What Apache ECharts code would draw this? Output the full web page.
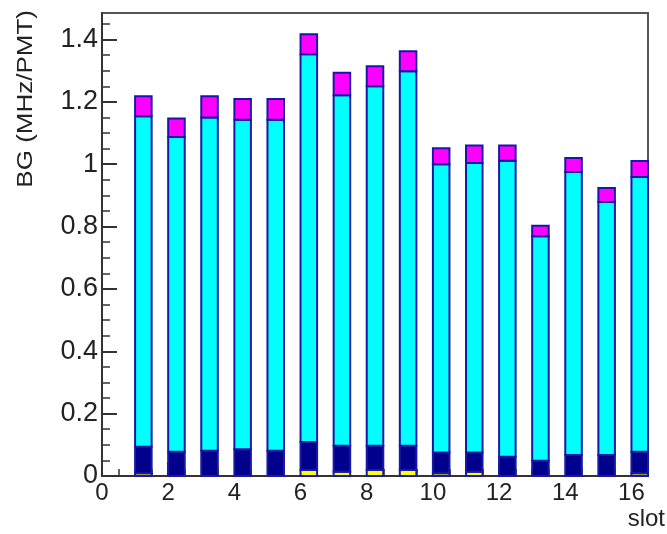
<!DOCTYPE html>
<html lang="en">
<head>
    <meta charset="UTF-8">
    <title>BG per slot</title>
    <script type="text/javascript" src="https://cdn.jsdelivr.net/npm/echarts@6/dist/echarts.min.js"></script>
    <style>
        html, body { margin: 0; padding: 0; background: #fff; }
    </style>
</head>
<body>
<div id="main" style="width:667px;height:534px;"></div>
</body>

<script>
    // slot numbers and the four stacked contributions (MHz/PMT), bottom to top
    let slots = [1, 2, 3, 4, 5, 6, 7, 8, 9, 10, 11, 12, 13, 14, 15, 16];
    let yellowBG = [0.009, 0, 0, 0, 0, 0.019, 0.014, 0.019, 0.019, 0.009, 0.014, 0, 0, 0, 0, 0.009];
    let navyBG = [0.085, 0.078, 0.081, 0.086, 0.081, 0.090, 0.083, 0.078, 0.078, 0.066, 0.061, 0.062, 0.049, 0.067, 0.067, 0.069];
    let cyanBG = [1.060, 1.009, 1.069, 1.057, 1.062, 1.244, 1.124, 1.153, 1.201, 0.925, 0.929, 0.949, 0.720, 0.908, 0.812, 0.881];
    let magentaBG = [0.064, 0.060, 0.068, 0.066, 0.066, 0.064, 0.072, 0.064, 0.064, 0.051, 0.056, 0.049, 0.034, 0.045, 0.045, 0.051];

    let xMajor = [0, 2, 4, 6, 8, 10, 12, 14, 16];
    let yMajor = [0, 0.2, 0.4, 0.6, 0.8, 1, 1.2, 1.4];

    const font = '"Liberation Sans", Arial, sans-serif';
    const axisColor = '#333';
    const barWidth = 0.5;

    let xMinor = [];
    for (let v = 0; v <= 16.5; v += 0.5) xMinor.push(v);
    let yMinor = [];
    for (let k = 0; k <= 29; k++) yMinor.push(Math.round(k * 5) / 100);

    function stackSeries(name, color, parts, idx) {
        let data = slots.map((s, i) => {
            let base = 0;
            for (let j = 0; j < idx; j++) base += parts[j][i];
            return [s, base, base + parts[idx][i]];
        });
        return {
            name: name,
            type: 'custom',
            data: data,
            z: 3,
            renderItem: function (params, api) {
                let lo = api.value(1), hi = api.value(2);
                if (hi - lo <= 0) return null;
                let p0 = api.coord([api.value(0), lo]);
                let p1 = api.coord([api.value(0) + barWidth, hi]);
                return {
                    type: 'rect',
                    shape: { x: p0[0], y: p1[1], width: p1[0] - p0[0], height: p0[1] - p1[1] },
                    style: { fill: color, stroke: '#1818a6', lineWidth: 2 }
                };
            }
        };
    }

    let parts = [yellowBG, navyBG, cyanBG, magentaBG];

    let myChart = echarts.init(document.getElementById('main'));
    let option = {
        animation: false,
        backgroundColor: '#fff',
        grid: {
            left: 102, right: 19, top: 13, bottom: 58,
            show: true, borderColor: '#555', borderWidth: 2, backgroundColor: 'transparent'
        },
        xAxis: [{
            type: 'value', min: 0, max: 16.5,
            axisLine: { show: true, onZero: false, lineStyle: { color: axisColor, width: 2 } },
            axisTick: { show: true, inside: true, length: 14, customValues: xMajor, lineStyle: { color: axisColor, width: 2 } },
            axisLabel: { customValues: xMajor, fontSize: 24, fontFamily: font, color: '#222', margin: 5 },
            splitLine: { show: false }
        }, {
            type: 'value', min: 0, max: 16.5, position: 'bottom',
            axisLine: { show: false },
            axisTick: { show: true, inside: true, length: 7, customValues: xMinor, lineStyle: { color: axisColor, width: 1.5 } },
            axisLabel: { show: false },
            splitLine: { show: false }
        }],
        yAxis: [{
            type: 'value', min: 0, max: 1.485,
            axisLine: { show: true, onZero: false, lineStyle: { color: axisColor, width: 2 } },
            axisTick: { show: true, inside: true, length: 15, customValues: yMajor, lineStyle: { color: axisColor, width: 2 } },
            axisLabel: { customValues: yMajor, fontSize: 27, fontFamily: font, color: '#222', margin: 4 },
            splitLine: { show: false }
        }, {
            type: 'value', min: 0, max: 1.485, position: 'left',
            axisLine: { show: false },
            axisTick: { show: true, inside: true, length: 8, customValues: yMinor, lineStyle: { color: axisColor, width: 1.5 } },
            axisLabel: { show: false },
            splitLine: { show: false }
        }],
        graphic: [{
            type: 'text', x: 26, y: 10, rotation: Math.PI / 2, scaleY: 0.85,
            style: { text: 'BG (MHz/PMT)', font: '26px ' + font, fill: '#222', textAlign: 'right', textVerticalAlign: 'middle' }
        }, {
            type: 'text', x: 665, y: 519,
            style: { text: 'slot', font: '24px ' + font, fill: '#222', textAlign: 'right', textVerticalAlign: 'middle' }
        }],
        series: [
            stackSeries('yellow', '#ffff00', parts, 0),
            stackSeries('navy', '#00008c', parts, 1),
            stackSeries('cyan', '#00ffff', parts, 2),
            stackSeries('magenta', '#ff00ff', parts, 3)
        ]
    };
    myChart.setOption(option);
</script>
</html>
